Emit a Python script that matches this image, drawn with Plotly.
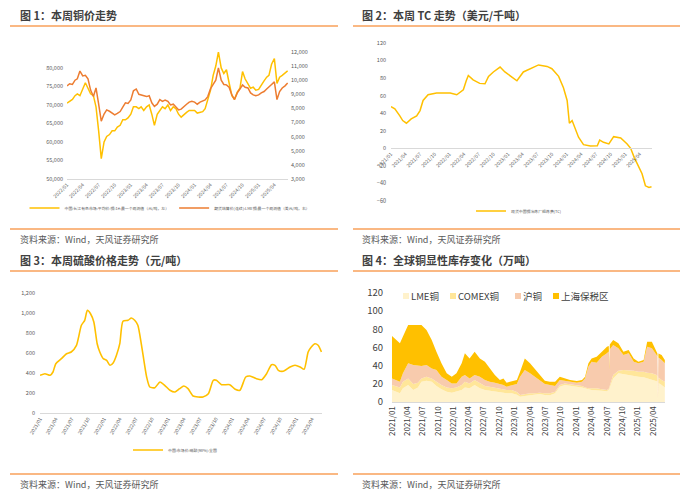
import plotly.graph_objects as go

# page body keeps its default 8px margin, so the figure fills the rest of the 700x492 window
OFF = 8
W, H = 700 - OFF, 492 - OFF
FONT = "Noto Sans CJK SC"
GOLD = "#FFC000"
ORANGE = "#ED7D31"
RULE = "#F9A15A"
GREY = "#595959"

# ---------- 图1: 铜价 (半月度) ----------
cu_dates = [f"{y}-{m:02d}-{d:02d}" for y in range(2022, 2026) for m in range(1, 13) for d in (1, 16)
            if not (y == 2025 and m > 6)]
cu_cny = [70500, 71000, 71500, 72500, 73000, 72500, 74500, 76000, 74500, 73000, 72500, 69500,
          63000, 55500, 60000, 61500, 62000, 63000, 63000, 64000, 64500, 66000, 66000, 66500,
          67500, 69500, 69500, 69000, 69500, 68500, 69500, 70000, 67500, 64500, 67500, 68500,
          69500, 69000, 70000, 68500, 69500, 69000, 67500, 66700, 67500, 68000, 68500, 68500,
          68500, 67800, 68000, 68200, 69000, 71500, 74000, 78000, 80500, 84300, 80000, 78500,
          79500, 76000, 72500, 71500, 73500, 74500, 79000, 77000, 75800, 74500, 74800, 74000,
          74200, 75500, 76500, 77500, 78000, 81000, 82500, 75800, 77500, 78000, 78600, 79200]
cu_lme = [9600, 9750, 9700, 10000, 10100, 10650, 10300, 10350, 10100, 9300, 8850, 9450,
          8300, 7100, 7600, 7900, 7800, 7700, 7550, 7650, 7780, 8100, 8400, 8350,
          8600, 9250, 9380, 9000, 8960, 8900, 8840, 8900, 8400, 8150, 8300, 8630,
          8500, 8600, 8500, 8250, 8300, 8100, 7900, 7950, 8100, 8300, 8450, 8500,
          8450, 8300, 8450, 8500, 8600, 8840, 9400, 9700, 10000, 10870, 10000, 9700,
          9670, 9500, 8960, 8630, 9100, 9380, 9670, 9500, 9450, 9100, 8960, 8900,
          8960, 9100, 9200, 9380, 9500, 9700, 9880, 8630, 9200, 9450, 9600, 9800]

# ---------- 图2: TC (美元/千吨) ----------
tc_dates = ["2021-01-01", "2021-01-25", "2021-02-25", "2021-03-15", "2021-04-07", "2021-05-07",
            "2021-06-10", "2021-07-01", "2021-07-20", "2021-08-20", "2021-10-12", "2022-01-05",
            "2022-02-15", "2022-03-28", "2022-04-15", "2022-04-28", "2022-05-28", "2022-07-08",
            "2022-08-10", "2022-09-01", "2022-10-01", "2022-11-12", "2022-12-12", "2023-01-15",
            "2023-02-25", "2023-04-06", "2023-05-18", "2023-07-10", "2023-09-01", "2023-10-01",
            "2023-11-12", "2023-12-12", "2024-01-04", "2024-01-18", "2024-02-04", "2024-02-25",
            "2024-03-15", "2024-04-15", "2024-05-28", "2024-07-10", "2024-07-25", "2024-08-18",
            "2024-09-20", "2024-10-20", "2024-12-03", "2025-01-12", "2025-02-03", "2025-02-25",
            "2025-03-25", "2025-04-15", "2025-05-06", "2025-05-28", "2025-06-13"]
tc_values = [47.6, 45, 37, 31.6, 28.6, 33.5, 37, 43, 54.5, 61, 63, 63,
             61, 66.7, 77, 83, 78, 74, 73.5, 82, 87, 92.6, 87, 82,
             77, 87, 90.7, 95, 93.3, 90.7, 82, 69, 54.5, 28.6, 31.6, 22,
             12.6, 4.2, 2.7, 3, 9.5, 6.9, 5, 13.3, 11.8, 5, 0, -10.3,
             -21.7, -29, -42.7, -44.6, -43.8]

# ---------- 图3: 硫酸 (元/吨) ----------
acid_dates = ["2021-01-01", "2021-01-29", "2021-02-28", "2021-03-16", "2021-04-01", "2021-05-03",
              "2021-06-01", "2021-06-28", "2021-07-28", "2021-08-25", "2021-09-13", "2021-09-28",
              "2021-10-16", "2021-11-04", "2021-11-23", "2021-12-08", "2021-12-28", "2022-01-16",
              "2022-02-04", "2022-02-23", "2022-03-13", "2022-04-01", "2022-04-19", "2022-05-18",
              "2022-06-06", "2022-06-25", "2022-07-13", "2022-08-03", "2022-09-01", "2022-09-19",
              "2022-10-18", "2022-11-16", "2022-12-13", "2023-01-12", "2023-02-10", "2023-03-08",
              "2023-04-01", "2023-04-25", "2023-05-24", "2023-06-22", "2023-07-19", "2023-08-19",
              "2023-09-16", "2023-10-04", "2023-11-02", "2023-12-19", "2024-01-19", "2024-02-15",
              "2024-03-19", "2024-04-12", "2024-05-19", "2024-06-18", "2024-07-16", "2024-08-13",
              "2024-09-02", "2024-09-21", "2024-10-19", "2024-11-27", "2024-12-25", "2025-01-23",
              "2025-02-15", "2025-03-10", "2025-03-28", "2025-04-18", "2025-05-06", "2025-05-25"]
acid_values = [377, 393, 377, 410, 493, 543, 593, 610, 677, 877, 927, 1027,
               993, 910, 693, 610, 543, 527, 477, 503, 577, 693, 917, 927,
               950, 927, 877, 677, 360, 260, 253, 310, 277, 227, 210, 243,
               270, 243, 170, 160, 160, 193, 327, 327, 283, 283, 237, 227,
               360, 370, 343, 333, 393, 483, 477, 427, 417, 460, 477, 460,
               437, 610, 660, 693, 677, 610]

# ---------- 图4: 全球铜显性库存 (万吨) ----------
inv_dates = ["2021-01-01", "2021-01-28", "2021-02-17", "2021-03-07", "2021-04-07", "2021-05-07",
             "2021-06-04", "2021-06-25", "2021-07-25", "2021-08-25", "2021-09-22", "2021-10-22",
             "2021-11-22", "2021-12-22", "2022-01-19", "2022-02-19", "2022-03-10", "2022-04-07",
             "2022-05-07", "2022-06-07", "2022-07-07", "2022-08-04", "2022-09-04", "2022-10-04",
             "2022-10-25", "2022-11-13", "2022-12-13", "2023-01-13", "2023-02-01", "2023-03-01",
             "2023-04-01", "2023-04-28", "2023-05-28", "2023-06-28", "2023-07-28", "2023-08-28",
             "2023-09-25", "2023-10-25", "2023-11-25", "2024-01-04", "2024-02-04", "2024-02-22",
             "2024-03-13", "2024-04-01", "2024-05-01", "2024-06-01", "2024-07-01", "2024-07-12",
             "2024-07-15", "2024-07-18", "2024-08-07", "2024-09-07", "2024-10-07", "2024-11-07",
             "2024-12-07", "2025-01-04", "2025-02-04", "2025-02-25", "2025-03-25", "2025-04-22",
             "2025-04-27", "2025-04-30", "2025-05-03", "2025-05-22", "2025-06-10"]
inv_lme = [13.2, 11.4, 9.5, 15.0, 18.7, 13.2, 16.0, 22.4, 23.5, 22.4, 17.6, 13.9,
           11.4, 10.3, 11.4, 13.2, 16.0, 15.0, 18.7, 15.0, 13.2, 12.5, 11.7, 11.4,
           10.3, 9.5, 9.5, 8.0, 5.9, 6.6, 7.3, 7.7, 8.8, 7.7, 7.3, 9.5,
           16.9, 18.7, 17.6, 16.9, 16.0, 14.7, 13.9, 13.2, 13.2, 12.5, 11.7, 13.0,
           14.0, 16.0, 26.0, 31.6, 30.5, 29.7, 28.6, 27.9, 27.2, 26.0, 25.0, 23.5,
           22.5, 3.0, 21.0, 18.7, 16.0]
inv_comex = [5.5, 6.2, 6.5, 7.4, 7.3, 6.6, 5.3, 3.6, 4.4, 3.6, 4.8, 4.8,
             4.6, 4.7, 4.6, 5.5, 6.4, 5.5, 5.5, 5.5, 4.4, 4.4, 4.3, 3.6,
             3.6, 3.7, 3.7, 3.0, 1.8, 2.2, 2.2, 1.8, 1.5, 1.8, 2.2, 1.9,
             1.8, 1.8, 2.2, 1.8, 1.6, 1.3, 1.1, 1.8, 1.8, 1.4, 1.5, 1.6,
             1.5, 1.8, 3.7, 2.9, 4.7, 5.5, 5.9, 5.5, 6.2, 6.3, 6.6, 6.2,
             6.0, 1.0, 6.0, 5.5, 6.4]
inv_shfe = [7.3, 6.4, 6.4, 9.2, 16.6, 20.9, 18.3, 13.6, 12.8, 11.0, 12.8, 9.2,
            8.2, 5.5, 4.5, 9.2, 7.3, 5.5, 5.5, 7.4, 6.6, 5.5, 5.3, 4.8,
            4.8, 3.7, 5.5, 8.8, 20.2, 26.4, 22.1, 18.4, 13.9, 10.3, 9.2, 6.2,
            5.5, 3.0, 2.6, 2.6, 4.8, 10.0, 23.9, 29.4, 28.3, 36.0, 40.4, 41.0,
            20.0, 40.0, 33.1, 24.6, 16.5, 18.4, 9.9, 9.2, 11.0, 28.6, 27.5, 22.0,
            22.0, 3.0, 22.0, 22.0, 20.2]
inv_bonded = [46.7, 44.0, 42.2, 40.4, 42.2, 44.1, 45.2, 45.2, 38.6, 31.3, 20.2, 14.7,
              7.4, 7.4, 11.1, 14.7, 23.9, 22.0, 25.7, 20.1, 20.2, 14.6, 8.4, 4.4,
              7.3, 4.4, 3.7, 4.4, 5.5, 12.8, 11.0, 9.1, 5.5, 3.7, 3.7, 4.8,
              3.7, 2.5, 1.8, 1.8, 1.8, 1.9, 3.7, 3.6, 6.6, 5.5, 7.3, 6.0,
              4.0, 5.5, 5.5, 5.5, 3.7, 3.6, 3.6, 1.8, 1.8, 5.5, 7.3, 3.7,
              3.0, 1.0, 4.5, 5.5, 3.6]
inv_names = ["LME铜", "COMEX铜", "沪铜", "上海保税区"]
inv_colors = ["#FFF2CC", "#FFE699", "#F8CBAD", "#FFC000"]

titles = ["图 1：本周铜价走势", "图 2：本周 TC 走势（美元/千吨）",
          "图 3：本周硫酸价格走势（元/吨）", "图 4：全球铜显性库存变化（万吨）"]
source = "资料来源：Wind，天风证券研究所"


def quarters(start_year):
    vals = [f"{y}-{m:02d}-01" for y in range(start_year, 2026) for m in (1, 4, 7, 10)
            if not (y == 2025 and m > 4)]
    return vals, [v[:7].replace("-", "/") for v in vals]


# window pixel -> paper fraction
def px(x):
    return (x - OFF) / W


def py(y):
    return 1 - (y - OFF) / H


q22, q22t = quarters(2022)
q21, q21t = quarters(2021)

fig = go.Figure()

fig.add_trace(go.Scatter(x=cu_dates, y=cu_lme, mode="lines", line=dict(color=ORANGE, width=1.5),
                         name="期货结算价(连续):LME铜:最一个观测值（美元/吨，右）",
                         xaxis="x", yaxis="y2", legend="legend", legendrank=2))
fig.add_trace(go.Scatter(x=cu_dates, y=cu_cny, mode="lines", line=dict(color=GOLD, width=1.5),
                         name="中国:长江有色市场:平均价:铜:1#:最一个观测值（元/吨，左）",
                         xaxis="x", yaxis="y", legend="legend", legendrank=1))
fig.add_trace(go.Scatter(x=tc_dates, y=tc_values, mode="lines", line=dict(color=GOLD, width=1.5),
                         name="现货中国铜冶炼厂粗炼费(TC)", xaxis="x2", yaxis="y3", legend="legend2"))
fig.add_trace(go.Scatter(x=acid_dates, y=acid_values, mode="lines",
                         line=dict(color=GOLD, width=1.6, shape="spline", smoothing=0.6),
                         name="中国:市场价:硫酸(98%):全国", xaxis="x3", yaxis="y4", legend="legend3"))
for name, vals, col in zip(inv_names, [inv_lme, inv_comex, inv_shfe, inv_bonded], inv_colors):
    fig.add_trace(go.Scatter(x=inv_dates, y=vals, mode="lines", stackgroup="inv",
                             line=dict(width=0, color=col), fillcolor=col, name=name,
                             showlegend=False, xaxis="x4", yaxis="y5"))

tick_small = dict(family=FONT, size=5, color=GREY)
axis_common = dict(showgrid=False, zeroline=False, ticks="", fixedrange=True, automargin=False)

# panel 2 x-axis sits on the zero line
y3_dom = [py(201), py(43)]
y3_rng = [-60, 120]
zero_pos = y3_dom[0] + (0 - y3_rng[0]) / (y3_rng[1] - y3_rng[0]) * (y3_dom[1] - y3_dom[0])

legend_common = dict(orientation="h", xanchor="center", yanchor="middle", traceorder="normal",
                     font=dict(family=FONT, size=3.9, color=GREY), bgcolor="rgba(0,0,0,0)")

fig.update_layout(
    template="none",
    width=W, height=H, margin=dict(l=0, r=0, t=0, b=0, pad=0), autosize=False,
    paper_bgcolor="white", plot_bgcolor="white",
    font=dict(family=FONT, color=GREY),
    xaxis=dict(domain=[px(67), px(288)], anchor="y", type="date",
               range=["2022-01-01", "2025-06-18"], tickvals=q22, ticktext=q22t,
               tickangle=-45, tickfont=tick_small, showline=True, linecolor="#D9D9D9", **axis_common),
    yaxis=dict(domain=[py(179), py(52)], anchor="x", range=[50000, 84300],
               tickvals=list(range(50000, 80001, 5000)), tickformat=",", ticklabelstandoff=3,
               tickfont=dict(family=FONT, size=5.5, color=GREY), **axis_common),
    yaxis2=dict(overlaying="y", side="right", anchor="x", range=[3000, 12000], dtick=1000,
                tickformat=",", ticklabelstandoff=2,
                tickfont=dict(family=FONT, size=5.5, color=GREY), **axis_common),
    xaxis2=dict(domain=[px(391), px(652)], anchor="free", position=zero_pos, type="date",
                range=["2021-01-01", "2025-06-16"], tickvals=q21, ticktext=q21t,
                tickangle=-45, tickfont=tick_small, showline=True, linecolor="#D9D9D9", **axis_common),
    yaxis3=dict(domain=y3_dom, anchor="x2", range=y3_rng, dtick=20, ticklabelstandoff=4,
                tickfont=dict(family=FONT, size=5.5, color=GREY), **axis_common),
    xaxis3=dict(domain=[px(40), px(322)], anchor="y4", type="date",
                range=["2021-01-01", "2025-05-28"], tickvals=q21, ticktext=q21t,
                tickangle=-60, tickfont=tick_small, showline=True, linecolor="#D9D9D9", **axis_common),
    yaxis4=dict(domain=[py(413), py(293)], anchor="x3", range=[0, 1200], dtick=200, tickformat=",",
                ticklabelstandoff=4, tickfont=dict(family=FONT, size=5.5, color=GREY), **axis_common),
    xaxis4=dict(domain=[px(392), px(665)], anchor="y5", type="date",
                range=["2021-01-01", "2025-06-11"], tickvals=q21, ticktext=q21t,
                tickangle=-90, tickfont=dict(family=FONT, size=8, color="#404040"),
                showline=True, linecolor="#D9D9D9", **axis_common),
    yaxis5=dict(domain=[py(402), py(293)], anchor="x4", range=[0, 120], dtick=20,
                ticklabelstandoff=8, tickfont=dict(family=FONT, size=9.5, color="#404040"),
                **axis_common),
    legend=dict(x=px(170), y=py(208), **legend_common),
    legend2=dict(x=px(519), y=py(211), **legend_common),
    legend3=dict(x=px(175), y=py(450), **legend_common),
)

# titles, rules and source lines
panels = [(18, 15, 10, 338, 26, 229, 239), (360, 15, 353, 680, 26, 229, 239),
          (18, 260, 10, 338, 271, 474, 484), (360, 260, 353, 680, 271, 474, 484)]
for title, (tx, ty, lx0, lx1, rtop, rbot, sy) in zip(titles, panels):
    fig.add_annotation(x=px(tx), y=py(ty), xref="paper", yref="paper", text=f"<b>{title}</b>",
                       showarrow=False, xanchor="left", yanchor="middle",
                       font=dict(family=FONT, size=11, color="#404040"))
    fig.add_annotation(x=px(tx), y=py(sy), xref="paper", yref="paper", text=source,
                       showarrow=False, xanchor="left", yanchor="middle",
                       font=dict(family=FONT, size=9, color=GREY))
    for ry in (rtop, rbot):
        fig.add_shape(type="line", xref="paper", yref="paper", x0=px(lx0), x1=px(lx1),
                      y0=py(ry), y1=py(ry), line=dict(color=RULE, width=1.5))

# panel 4 legend (small square swatches, as in the source chart)
for name, col, sx in zip(inv_names, inv_colors, [403, 450, 515, 553]):
    fig.add_shape(type="rect", xref="paper", yref="paper", x0=px(sx), x1=px(sx + 6),
                  y0=py(299), y1=py(293), fillcolor=col, line=dict(width=0))
    fig.add_annotation(x=px(sx + 6), y=py(296), xref="paper", yref="paper", text=name,
                       showarrow=False, xanchor="left", yanchor="middle",
                       font=dict(family=FONT, size=9.5, color="#404040"))

fig.write_html("out.html")
